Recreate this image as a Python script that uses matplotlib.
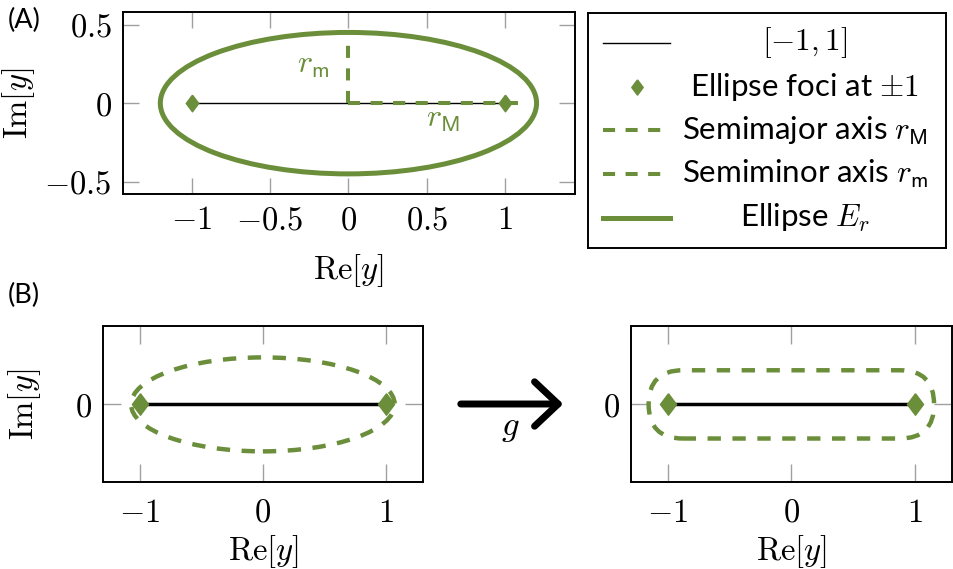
import matplotlib
matplotlib.use('Agg')
import matplotlib.pyplot as plt
from matplotlib.patches import Ellipse, FancyBboxPatch, FancyArrowPatch
from matplotlib.lines import Line2D

plt.rcParams['mathtext.fontset'] = 'cm'
plt.rcParams['font.family'] = ['Lato', 'DejaVu Sans']

green = '#6b8e3a'
grey = '#a0a0a0'

# ---- data ----
interval_x = [-1, 1]
interval_y = [0, 0]
foci_x = [-1, 1]
foci_y = [0, 0]

# panel A: ellipse E_r and its half axes
a_rM = 1.2
a_rm = 0.45
major_x = [0, 1.13]
major_y = [0, 0]
minor_x = [0, 0]
minor_y = [0, 0.39]

# panel B: ellipse (left) and its image under g (right, sausage shape)
b_rM = 1.07
b_rm = 0.38
g_half_len = 1.157
g_half_h = 0.276

a_xticks = [-1, -0.5, 0, 0.5, 1]
a_yticks = [-0.5, 0, 0.5]
b_xticks = [-1, 0, 1]
b_yticks = [0]

legend_labels = [r'$[-1,1]$', r'Ellipse foci at $\pm 1$',
                 r'Semimajor axis $r_{\mathsf{M}}$',
                 r'Semiminor axis $r_{\mathsf{m}}$', r'Ellipse $E_r$']

diamond = [(0, 1), (0.75, 0), (0, -1), (-0.75, 0), (0, 1)]
dash = (0, (3, 2.6))
tick_fs = 23.5


def lab(v):
    return '$%g$' % v


def style(ax, xt, yt, xlim, ylim, ticklen, xpad):
    ax.set_xlim(xlim)
    ax.set_ylim(ylim)
    ax.set_xticks(xt)
    ax.set_yticks(yt)
    ax.set_xticklabels([lab(v) for v in xt])
    ax.set_yticklabels([lab(v) for v in yt])
    ax.tick_params(direction='in', top=True, right=True, length=ticklen,
                   width=1, color=grey, labelsize=tick_fs)
    ax.tick_params(axis='x', pad=xpad)
    ax.tick_params(axis='y', pad=8)
    for s in ax.spines.values():
        s.set_linewidth(1.4)


fig = plt.figure(figsize=(9.54, 5.69), dpi=100)

# ---------- panel A ----------
axA = fig.add_axes([0.1286, 0.6585, 0.4741, 0.3204])
style(axA, a_xticks, a_yticks, (-1.44, 1.445), (-0.58, 0.58), 11.5, 8)
axA.plot(interval_x, interval_y, color='black', lw=1.0, zorder=2)
axA.add_patch(Ellipse((0, 0), 2 * a_rM, 2 * a_rm, fill=False, ec=green, lw=3.6, zorder=3))
axA.plot(major_x, major_y, color=green, lw=2.9, ls=dash, zorder=3)
axA.plot(minor_x, minor_y, color=green, lw=2.9, ls=dash, zorder=3)
axA.plot(foci_x, foci_y, ls='none', marker=diamond, ms=12, color=green, zorder=4)
axA.text(-0.12, 0.24, r'$r_{\mathsf{m}}$', color=green, fontsize=23, ha='right', va='center')
axA.text(0.6, -0.1, r'$r_{\mathsf{M}}$', color=green, fontsize=23, ha='center', va='center')
axA.set_xlabel(r'$\mathrm{Re}[y]$', fontsize=tick_fs, labelpad=12)
axA.set_ylabel(r'$\mathrm{Im}[y]$', fontsize=tick_fs)
axA.yaxis.set_label_coords(-0.19, 0.5)

# ---------- legend box ----------
axL = fig.add_axes([0.6164, 0.5642, 0.3753, 0.4130])
axL.set_xlim(0, 1)
axL.set_ylim(0, 1)
axL.set_xticks([])
axL.set_yticks([])
for s in axL.spines.values():
    s.set_linewidth(1.4)
rows = [0.872, 0.686, 0.5, 0.314, 0.128]
hx = [0.042, 0.229]
handles = [
    Line2D(hx, [rows[0]] * 2, color='black', lw=1.0),
    Line2D([0.136], [rows[1]], ls='none', marker=diamond, ms=11, color=green),
    Line2D(hx, [rows[2]] * 2, color=green, lw=2.9, ls=dash),
    Line2D(hx, [rows[3]] * 2, color=green, lw=2.9, ls=dash),
    Line2D(hx, [rows[4]] * 2, color=green, lw=3.6),
]
for h, y, t in zip(handles, rows, legend_labels):
    axL.add_line(h)
    axL.text(0.606, y, t, fontsize=22.5, ha='center', va='center')

# ---------- panel B, left ----------
axB1 = fig.add_axes([0.1077, 0.1524, 0.3357, 0.2738])
style(axB1, b_xticks, b_yticks, (-1.3, 1.3), (-0.63, 0.63), 13, 11)
axB1.plot(interval_x, interval_y, color='black', lw=2.5, zorder=2)
axB1.add_patch(Ellipse((0, 0), 2 * b_rM, 2 * b_rm, fill=False, ec=green, lw=3.2,
                       ls=dash, zorder=3))
axB1.plot(foci_x, foci_y, ls='none', marker=diamond, ms=15.5, color=green, zorder=4)
axB1.set_xlabel(r'$\mathrm{Re}[y]$', fontsize=tick_fs, labelpad=4)
axB1.set_ylabel(r'$\mathrm{Im}[y]$', fontsize=tick_fs)
axB1.yaxis.set_label_coords(-0.186, 0.5)

# ---------- panel B, right ----------
axB2 = fig.add_axes([0.6614, 0.1524, 0.3362, 0.2738])
style(axB2, b_xticks, b_yticks, (-1.3, 1.3), (-0.63, 0.63), 13, 11)
axB2.plot(interval_x, interval_y, color='black', lw=2.5, zorder=2)
axB2.add_patch(FancyBboxPatch((-g_half_len, -g_half_h), 2 * g_half_len, 2 * g_half_h,
                              boxstyle='round,pad=0,rounding_size=%g' % g_half_h,
                              fill=False, ec=green, lw=3.2, ls=dash, zorder=3))
axB2.plot(foci_x, foci_y, ls='none', marker=diamond, ms=15.5, color=green, zorder=4)
axB2.set_xlabel(r'$\mathrm{Re}[y]$', fontsize=tick_fs, labelpad=4)

# arrow g between the two B panels
fig.add_artist(FancyArrowPatch(
    (458 / 954, 1 - 404 / 569), (566 / 954, 1 - 404 / 569),
    transform=fig.transFigure, arrowstyle='->,head_length=0.85,head_width=0.8',
    mutation_scale=20, lw=5, color='black'))
fig.text(510 / 954, 1 - 428 / 569, r'$g$', fontsize=25, ha='center', va='center')

fig.text(8 / 954, 1 - 8 / 569, '(A)', fontsize=19.5, ha='left', va='top')
fig.text(8 / 954, 1 - 283 / 569, '(B)', fontsize=19.5, ha='left', va='top')

fig.savefig('out.png', dpi=100)
